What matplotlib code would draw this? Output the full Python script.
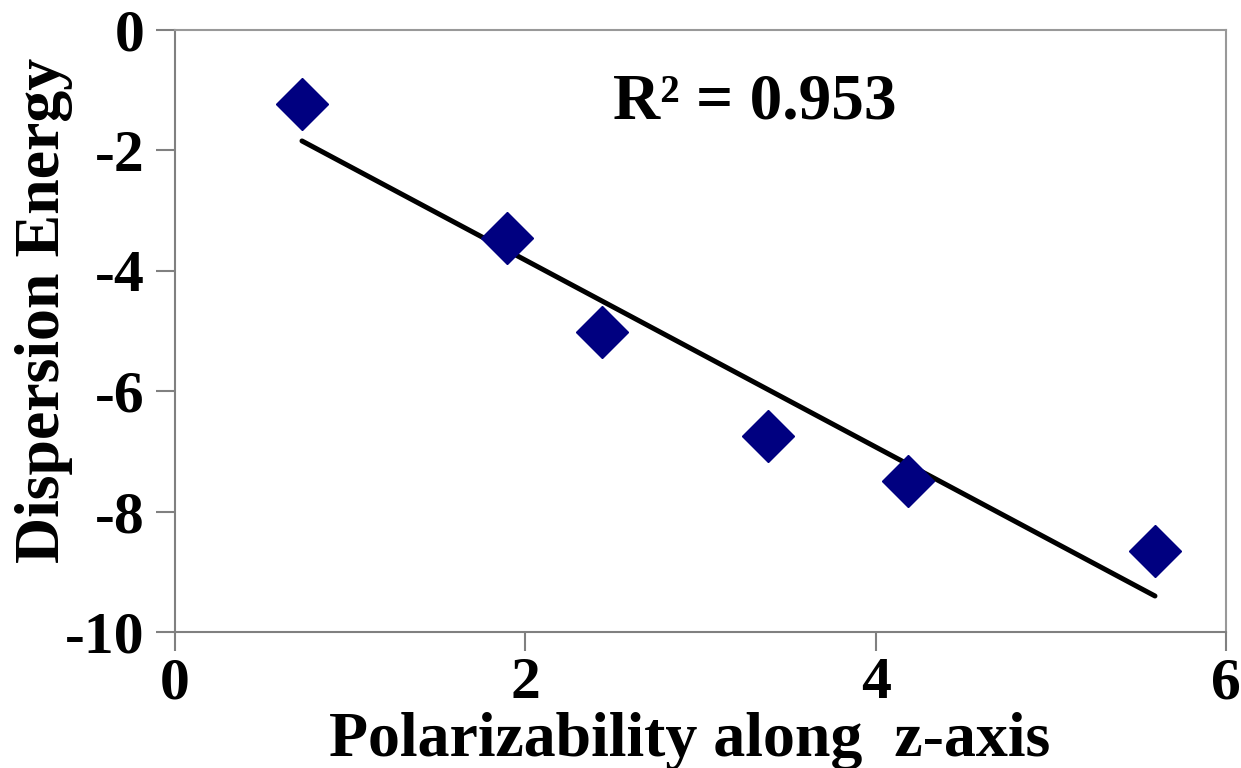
import matplotlib.pyplot as plt
import numpy as np

plt.rcParams["font.family"] = "Liberation Serif"
plt.rcParams["font.weight"] = "bold"
plt.rcParams["axes.labelweight"] = "bold"
plt.rcParams["axes.unicode_minus"] = False

# data
polarizability = [0.725, 1.895, 2.437, 3.385, 4.184, 5.594]
dispersion = [-1.23, -3.46, -5.02, -6.74, -7.49, -8.65]
x_ticks = [0, 2, 4, 6]
y_ticks = [-10, -8, -6, -4, -2, 0]
r2_label = "R² = 0.953"

fig = plt.figure(figsize=(12.41, 7.68), dpi=100)
ax = fig.add_axes([0.141, 0.177, 0.847, 0.784])

ax.plot(polarizability, dispersion, linestyle="none", marker="D",
        markersize=26, color="#000080", zorder=3)

# linear trend line over the data range
slope, intercept = np.polyfit(polarizability, dispersion, 1)
xs = np.array([min(polarizability), max(polarizability)])
ax.plot(xs, slope * xs + intercept, color="black", linewidth=3.6,
        solid_capstyle="round", zorder=2)

ax.set_xlim(0, 6)
ax.set_ylim(-10, 0)
ax.set_xticks(x_ticks)
ax.set_yticks(y_ticks)
ax.tick_params(axis="both", labelsize=43, length=14, width=1.5,
               color="#808080", direction="out")
ax.tick_params(axis="x", pad=4)
ax.tick_params(axis="y", pad=8)
for s in ax.spines.values():
    s.set_color("#999999")
    s.set_linewidth(1.5)
ax.spines["left"].set_color("#808080")
ax.spines["bottom"].set_color("#808080")

ax.set_xlabel("Polarizability along  z-axis", fontsize=46)
ax.set_ylabel("Dispersion Energy", fontsize=46)
ax.xaxis.set_label_coords(0.49, -0.133)
ax.yaxis.set_label_coords(-0.097, 0.535)

ax.text(3.31, -1.2, r2_label, fontsize=47, ha="center", va="center")

fig.savefig("out.png", dpi=100)
